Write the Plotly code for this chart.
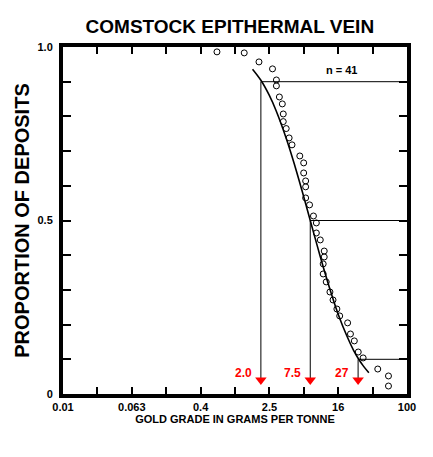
import numpy as np
import plotly.graph_objects as go

# observed deposits (grade g/t, proportion of deposits)
obs_grade = [0.617, 1.28, 1.90, 2.73, 3.03, 3.03, 3.28, 3.55, 3.64, 3.64,
             3.94, 4.26, 4.60, 5.67, 6.29, 6.29, 6.63, 6.63, 6.63, 7.36,
             8.17, 8.83, 8.83, 9.81, 10.9, 10.9, 10.6, 10.6, 11.5, 12.7,
             13.8, 15.3, 16.5, 20.4, 22.0, 24.4, 27.1, 30.9, 45.7, 60.9, 60.9]
obs_prop = [0.986, 0.983, 0.957, 0.937, 0.905, 0.888, 0.856, 0.836, 0.807, 0.785,
            0.765, 0.738, 0.718, 0.686, 0.666, 0.637, 0.614, 0.597, 0.565, 0.545,
            0.513, 0.493, 0.464, 0.444, 0.412, 0.395, 0.375, 0.346, 0.323, 0.294,
            0.271, 0.245, 0.225, 0.205, 0.173, 0.153, 0.121, 0.104, 0.072, 0.052, 0.023]

# fitted curve
fit_grade = [1.6, 2.0, 2.5, 3.0, 4.0, 5.0, 6.0, 7.5, 9.0, 11.0,
             13.0, 16.0, 20.0, 24.0, 27.0, 31.0, 36.0]
fit_prop = [0.936, 0.904, 0.861, 0.817, 0.732, 0.655, 0.587, 0.50, 0.429, 0.353,
            0.294, 0.227, 0.167, 0.125, 0.103, 0.081, 0.061]

# 90th, 50th, 10th percentiles
pct_grade = [2.0, 7.5, 27.0]
pct_prop = [0.9, 0.5, 0.1]
pct_label = ["2.0", "7.5", "27"]

x_tickvals = [10 ** (-2 + 0.4 * k) for k in range(11)]
x_ticktext = ["0.01", "", "0.063", "", "0.4", "", "2.5", "", "16", "", "100"]
y_tickvals = [k / 10 for k in range(11)]
y_ticktext = ["0", "", "", "", "", "0.5", "", "", "", "", "1.0"]

FONT = "Liberation Sans, Arial, sans-serif"
ARROW_Y = 0.04

fig = go.Figure()

for g, p in zip(pct_grade, pct_prop):
    fig.add_trace(go.Scatter(
        x=[g, g, 100], y=[ARROW_Y, p, p],
        mode="lines", line=dict(color="black", width=1),
        showlegend=False, hoverinfo="skip", cliponaxis=False
    ))

fig.add_trace(go.Scatter(
    x=fit_grade, y=fit_prop, mode="lines",
    line=dict(color="black", width=1.6, shape="spline"),
    showlegend=False
))

fig.add_trace(go.Scatter(
    x=obs_grade, y=obs_prop, mode="markers",
    marker=dict(symbol="circle-open", size=6, color="black", line=dict(width=1)),
    showlegend=False, cliponaxis=False
))

fig.add_trace(go.Scatter(
    x=pct_grade, y=[ARROW_Y] * 3, mode="markers",
    marker=dict(symbol="triangle-down", size=10, color="red"),
    showlegend=False
))

for g, lab in zip(pct_grade, pct_label):
    fig.add_annotation(
        x=np.log10(g), y=0.06, text=lab, showarrow=False,
        xanchor="right", xshift=-7,
        font=dict(family=FONT, size=12, color="red", weight="bold")
    )

fig.add_annotation(
    x=np.log10(17.5), y=0.934, text="n = 41", showarrow=False,
    font=dict(family=FONT, size=11, color="black", weight="bold")
)

# page body adds an 8px offset, so the figure is sized to sit inside the window
fig.update_layout(
    width=425, height=449,
    margin=dict(l=46, r=26, t=39, b=63),
    paper_bgcolor="white", plot_bgcolor="white",
    font=dict(family=FONT, color="black"),
    title=dict(
        text="COMSTOCK EPITHERMAL VEIN", x=0.522, xanchor="center",
        y=0.96, yanchor="middle",
        font=dict(family=FONT, size=19, weight="bold")
    ),
    xaxis=dict(
        type="log", range=[-2, 2],
        tickvals=x_tickvals, ticktext=x_ticktext,
        ticks="inside", ticklen=7, tickwidth=2, tickcolor="black",
        showline=True, linewidth=4, linecolor="black", mirror="allticks",
        showgrid=False, zeroline=False,
        tickfont=dict(family=FONT, size=11, weight="bold"),
        title=dict(text="GOLD GRADE IN GRAMS PER TONNE", standoff=4,
                   font=dict(family=FONT, size=11, weight="bold"))
    ),
    yaxis=dict(
        range=[0, 1],
        tickvals=y_tickvals, ticktext=y_ticktext,
        ticks="inside", ticklen=8, tickwidth=2, tickcolor="black",
        showline=True, linewidth=4, linecolor="black", mirror="allticks",
        showgrid=False, zeroline=False, ticklabelstandoff=4,
        tickfont=dict(family=FONT, size=11, weight="bold"),
        title=dict(text="PROPORTION OF DEPOSITS", standoff=4,
                   font=dict(family=FONT, size=20, weight="bold"))
    ),
)

fig.write_html("out.html")
